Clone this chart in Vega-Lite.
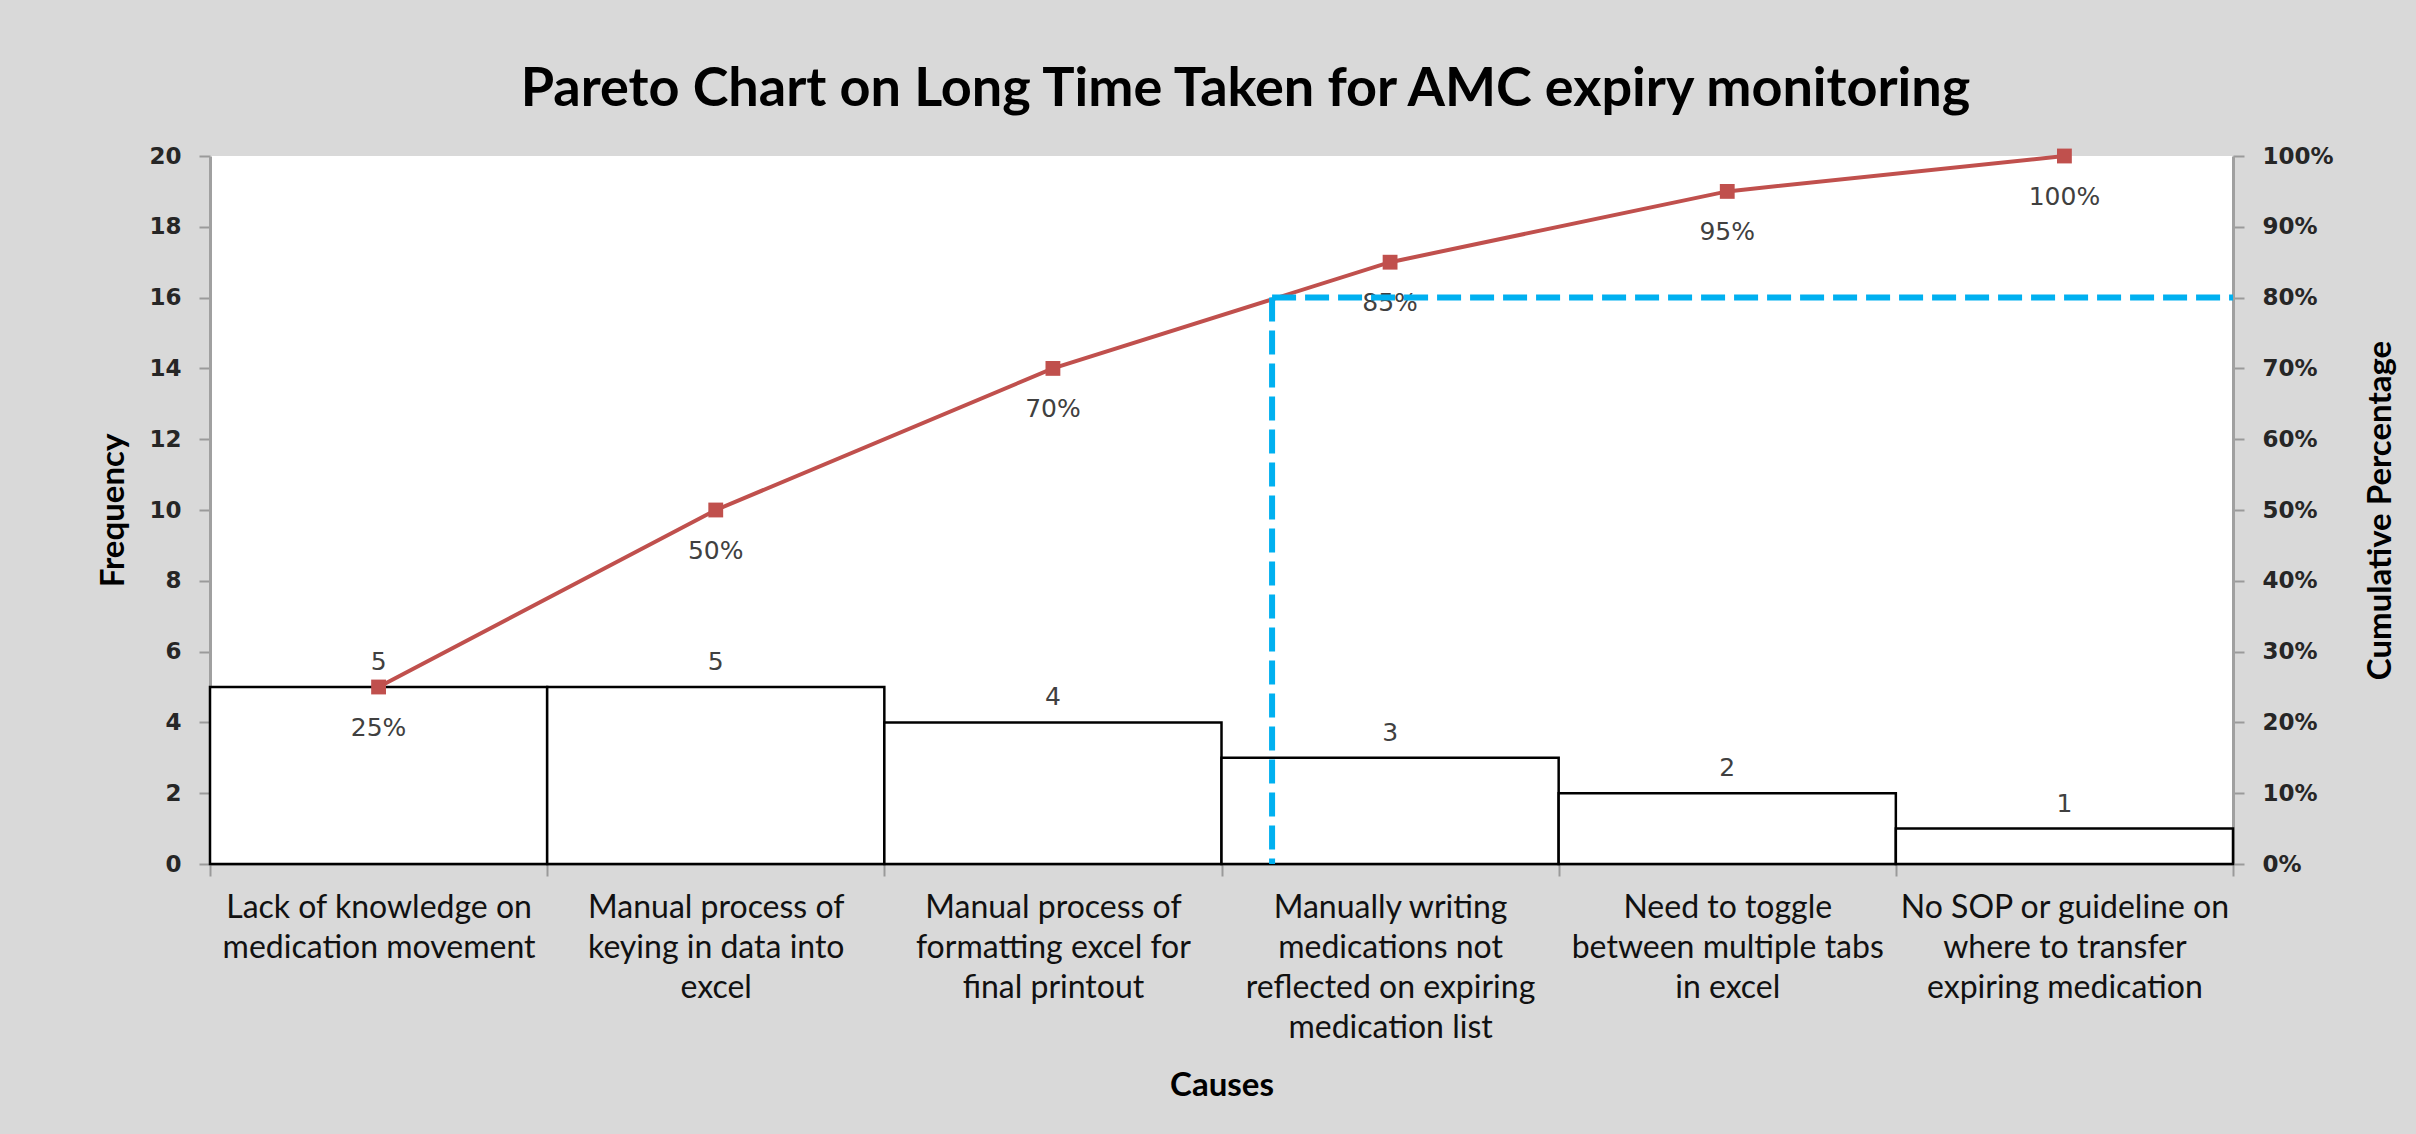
{
  "$schema": "https://vega.github.io/schema/vega-lite/v6.json",
  "autosize": {"type": "none"},
  "width": 2023,
  "height": 708,
  "padding": {"left": 210, "top": 156, "right": 183, "bottom": 270},
  "background": "#d9d9d9",
  "view": {"fill": "white", "stroke": null},
  "title": {
    "text": "Pareto Chart on Long Time Taken for AMC expiry monitoring",
    "font": "Lato", "fontWeight": "bold", "fontSize": 54, "color": "#000000",
    "anchor": "middle", "dx": 24, "offset": 28
  },
  "datasets": {
    "causes": [
      {"cause": "Lack of knowledge on medication movement", "frequency": 5, "cumulative": 0.25},
      {"cause": "Manual process of keying in data into excel", "frequency": 5, "cumulative": 0.50},
      {"cause": "Manual process of formatting excel for final printout", "frequency": 4, "cumulative": 0.70},
      {"cause": "Manually writing medications not reflected on expiring medication list", "frequency": 3, "cumulative": 0.85},
      {"cause": "Need to toggle between multiple tabs in excel", "frequency": 2, "cumulative": 0.95},
      {"cause": "No SOP or guideline on where to transfer expiring medication", "frequency": 1, "cumulative": 1.00}
    ],
    "cutoff": [
      {"cross_x": 3.15, "end_x": 6, "level": 0.8, "base": 0}
    ]
  },
  "layer": [
    {
      "data": {"name": "causes"},
      "encoding": {
        "x": {
          "field": "cause", "type": "nominal", "sort": null,
          "scale": {"paddingInner": 0, "paddingOuter": 0},
          "axis": {
            "title": "Causes", "titleFont": "Lato", "titleFontWeight": "bold", "titleFontSize": 33, "titleColor": "#000000", "titlePadding": 26,
            "labelAngle": 0, "labelFont": "Lato", "labelFontSize": 32, "labelLineHeight": 40, "labelColor": "#111111",
            "labelLimit": 0, "labelPadding": 16, "labelBaseline": "top",
            "labelExpr": "{'Lack of knowledge on medication movement': ['Lack of knowledge on', 'medication movement'], 'Manual process of keying in data into excel': ['Manual process of', 'keying in data into', 'excel'], 'Manual process of formatting excel for final printout': ['Manual process of', 'formatting excel for', 'final printout'], 'Manually writing medications not reflected on expiring medication list': ['Manually writing', 'medications not', 'reflected on expiring', 'medication list'], 'Need to toggle between multiple tabs in excel': ['Need to toggle', 'between multiple tabs', 'in excel'], 'No SOP or guideline on where to transfer expiring medication': ['No SOP or guideline on', 'where to transfer', 'expiring medication']}[datum.value]",
            "tickBand": "extent", "tickSize": 12, "tickColor": "#9a9a9a", "tickWidth": 2,
            "domainColor": "#868686", "domainWidth": 2
          }
        },
        "y": {
          "field": "frequency", "type": "quantitative",
          "scale": {"domain": [0, 20], "nice": false},
          "axis": {
            "title": "Frequency", "titleFont": "Lato", "titleFontWeight": "bold", "titleFontSize": 33, "titleColor": "#000000", "titlePadding": 18,
            "values": [0, 2, 4, 6, 8, 10, 12, 14, 16, 18, 20],
            "labelFont": "DejaVu Sans", "labelFontSize": 23, "labelFontWeight": "bold", "labelColor": "#262626", "labelPadding": 18,
            "tickSize": 11, "tickColor": "#9a9a9a", "tickWidth": 2,
            "domainColor": "#a0a0a0", "domainWidth": 3, "grid": false
          }
        }
      },
      "layer": [
        {"mark": {"type": "bar", "fill": "white", "stroke": "#000000", "strokeWidth": 2.5}},
        {
          "mark": {"type": "text", "baseline": "bottom", "dy": -12, "font": "DejaVu Sans", "fontSize": 25, "color": "#404040"},
          "encoding": {"text": {"field": "frequency", "type": "quantitative"}}
        }
      ]
    },
    {
      "resolve": {"scale": {"x": "independent"}},
      "encoding": {
        "y": {
          "field": "cumulative", "type": "quantitative",
          "scale": {"domain": [0, 1], "nice": false},
          "axis": {
            "orient": "right", "title": "Cumulative Percentage", "format": ".0%", "titleAngle": 270,
            "titleFont": "Lato", "titleFontWeight": "bold", "titleFontSize": 33, "titleColor": "#000000", "titlePadding": 64,
            "values": [0, 0.1, 0.2, 0.3, 0.4, 0.5, 0.6, 0.7, 0.8, 0.9, 1],
            "labelFont": "DejaVu Sans", "labelFontSize": 23, "labelFontWeight": "bold", "labelColor": "#262626", "labelPadding": 18,
            "tickSize": 11, "tickColor": "#9a9a9a", "tickWidth": 2,
            "domainColor": "#a0a0a0", "domainWidth": 3, "grid": false
          }
        }
      },
      "layer": [
        {
          "data": {"name": "causes"},
          "encoding": {
            "x": {"field": "cause", "type": "nominal", "sort": null, "scale": {"paddingInner": 0, "paddingOuter": 0}, "axis": null}
          },
          "layer": [
            {"mark": {"type": "line", "color": "#c0504d", "strokeWidth": 4}},
            {"mark": {"type": "point", "shape": "square", "filled": true, "size": 220, "color": "#c0504d", "opacity": 1}},
            {
              "mark": {"type": "text", "baseline": "middle", "dy": 41, "font": "DejaVu Sans", "fontSize": 25, "color": "#404040"},
              "encoding": {"text": {"field": "cumulative", "type": "quantitative", "format": ".0%"}}
            }
          ]
        },
        {
          "data": {"name": "cutoff"},
          "encoding": {
            "x": {"field": "cross_x", "type": "quantitative", "scale": {"domain": [0, 6], "nice": false, "zero": true}, "axis": null},
            "y": {"field": "level", "type": "quantitative"}
          },
          "layer": [
            {
              "mark": {"type": "rule", "color": "#00b0f0", "strokeWidth": 6, "strokeDash": [24, 9]},
              "encoding": {"x2": {"field": "end_x"}}
            },
            {
              "mark": {"type": "rule", "color": "#00b0f0", "strokeWidth": 6, "strokeDash": [24, 9]},
              "encoding": {"y2": {"field": "base"}}
            }
          ]
        }
      ]
    }
  ],
  "resolve": {"scale": {"y": "independent", "x": "independent"}}
}
